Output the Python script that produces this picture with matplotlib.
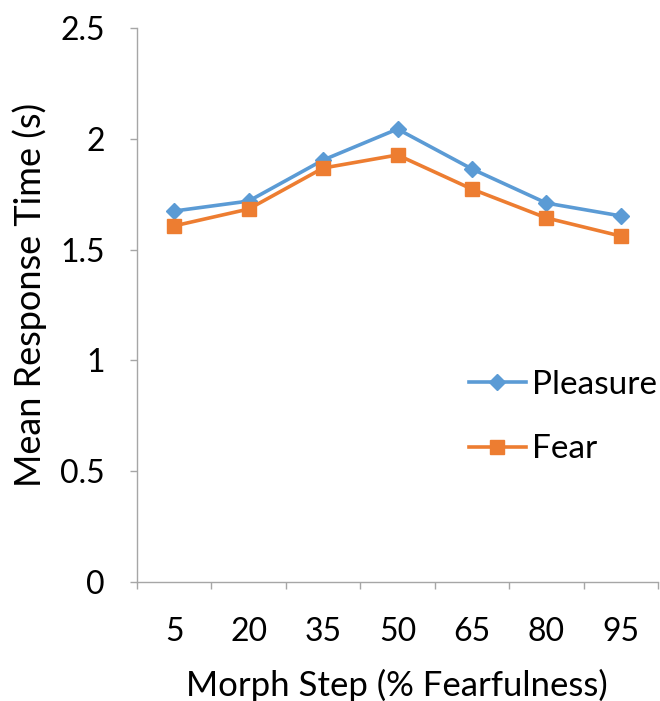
import numpy as np
import matplotlib.pyplot as plt

plt.rcParams['font.family'] = ['Lato', 'DejaVu Sans']

# morph steps and mean response times (s)
steps = ['5', '20', '35', '50', '65', '80', '95']
pleasure = [1.674, 1.719, 1.904, 2.044, 1.864, 1.710, 1.652]
fear = [1.607, 1.683, 1.868, 1.927, 1.773, 1.643, 1.561]

blue = '#5B9BD5'
orange = '#ED7D31'
axis_gray = '#A6A6A6'

fig = plt.figure(figsize=(6.6, 7.01), dpi=100)
ax = fig.add_axes([137/660, 1 - 582/701, (658 - 137)/660, (582 - 28)/701])

x = np.arange(len(steps))
ax.plot(x, pleasure, color=blue, lw=2.6, marker='D', ms=8.5, label='Pleasure')
ax.plot(x, fear, color=orange, lw=2.6, marker='s', ms=9.5, label='Fear')

ax.set_xlim(-0.5, len(steps) - 0.5)
ax.set_ylim(0, 2.5)
ax.set_yticks(np.arange(0, 2.51, 0.5))
ax.set_yticklabels(['0', '0.5', '1', '1.5', '2', '2.5'])

# category labels in the middle, tick marks on the boundaries
ax.set_xticks(x)
ax.set_xticklabels(steps)
ax.set_xticks(np.arange(-0.5, len(steps)), minor=True)
ax.tick_params(axis='x', which='major', length=0, pad=25, labelsize=23)
ax.tick_params(axis='x', which='minor', length=5, width=1, color=axis_gray)
ax.tick_params(axis='y', length=5, width=1, color=axis_gray, pad=18, labelsize=23)

for side in ('top', 'right'):
    ax.spines[side].set_visible(False)
for side in ('left', 'bottom'):
    ax.spines[side].set_color(axis_gray)
    ax.spines[side].set_linewidth(1)

fig.text(30/660, 1 - 295/701, 'Mean Response Time (s)', rotation=90,
         ha='center', va='center', fontsize=26)
fig.text(397/660, 1 - 685/701, 'Morph Step (% Fearfulness)',
         ha='center', va='center', fontsize=25)

ax.legend(loc='center left', bbox_to_anchor=((469 - 137)/521, 1 - (417 - 28)/554),
          frameon=False, fontsize=24, handlelength=1.7, handletextpad=0.2,
          labelspacing=1.05, borderpad=0, borderaxespad=0)

fig.savefig('out.png', dpi=100)
